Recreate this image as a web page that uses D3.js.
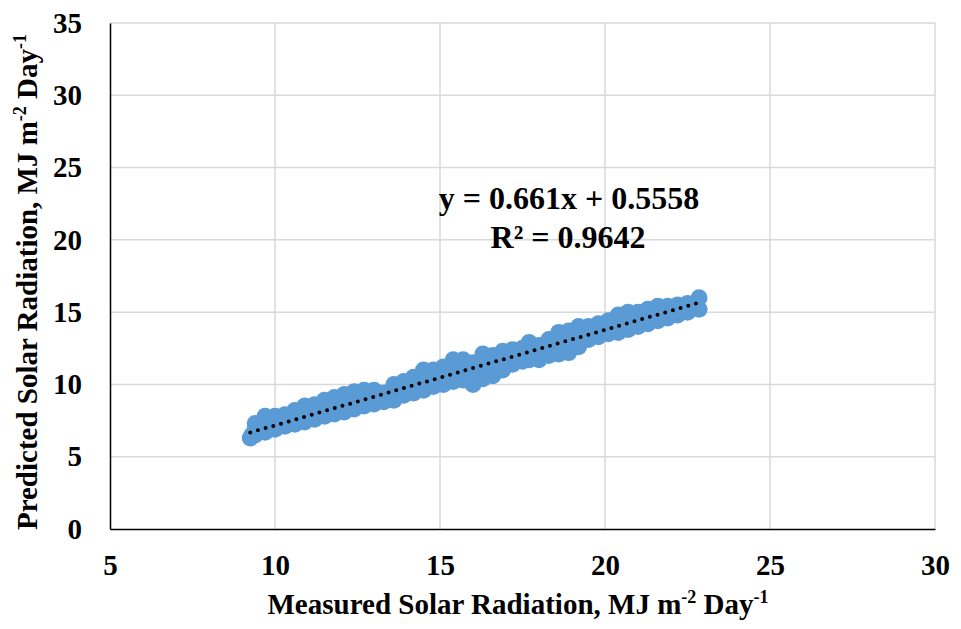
<!DOCTYPE html>
<html>
<head>
<meta charset="utf-8">
<script src="https://cdn.jsdelivr.net/npm/d3@7"></script>
<style>
  body { margin: 0; background: #fff; }
  text { font-family: "Liberation Serif", "Times New Roman", serif; font-weight: bold; fill: #000; }
</style>
</head>
<body>
<div class="chart"></div>
<script>
var svgWidth = 961;
var svgHeight = 629;

var margin = { top: 23, right: 26, bottom: 100, left: 110 };
var width = 935 - margin.left;
var height = 529 - margin.top;

// measured vs predicted
var measured = [
  9.25, 9.3,
  9.4, 9.4, 9.4,
  9.7, 9.7, 9.7,
  10.0, 10.0, 10.0,
  10.3, 10.3, 10.3,
  10.6, 10.6, 10.6,
  10.9, 10.9, 10.9,
  11.2, 11.2, 11.2,
  11.5, 11.5, 11.5,
  11.8, 11.8, 11.8,
  12.1, 12.1, 12.1,
  12.4, 12.4, 12.4,
  12.7, 12.7, 12.7,
  13.0, 13.0, 13.0,
  13.3, 13.3, 13.3,
  13.6, 13.6, 13.6,
  13.9, 13.9, 13.9,
  14.2, 14.2, 14.2,
  14.5, 14.5, 14.5,
  14.8, 14.8, 14.8,
  15.1, 15.1, 15.1,
  15.4, 15.4, 15.4,
  15.7, 15.7, 15.7,
  16.0, 16.0, 16.0,
  16.3, 16.3, 16.3,
  16.6, 16.6, 16.6,
  16.9, 16.9, 16.9,
  17.2, 17.2, 17.2,
  17.5, 17.5, 17.5,
  17.7, 17.7, 17.7,
  18.0, 18.0, 18.0,
  18.3, 18.3, 18.3,
  18.6, 18.6, 18.6,
  18.9, 18.9, 18.9,
  19.2, 19.2, 19.2,
  19.5, 19.5, 19.5,
  19.8, 19.8, 19.8,
  20.1, 20.1, 20.1,
  20.4, 20.4, 20.4,
  20.7, 20.7, 20.7,
  21.0, 21.0, 21.0,
  21.3, 21.3, 21.3,
  21.6, 21.6, 21.6,
  21.9, 21.9, 21.9,
  22.2, 22.2, 22.2,
  22.5, 22.5, 22.5,
  22.85, 22.85
];
var predicted = [
  6.3, 6.5,
  7.3, 6.9, 6.5,
  7.8, 7.2, 6.7,
  7.8, 7.3, 6.9,
  7.9, 7.5, 7.1,
  8.2, 7.7, 7.25,
  8.5, 7.9, 7.4,
  8.6, 8.1, 7.6,
  8.9, 8.3, 7.8,
  9.1, 8.5, 7.95,
  9.3, 8.7, 8.1,
  9.5, 8.9, 8.3,
  9.6, 9.0, 8.5,
  9.6, 9.1, 8.65,
  9.4, 9.1, 8.8,
  10.0, 9.4, 8.9,
  10.2, 9.7, 9.25,
  10.5, 9.9, 9.4,
  11.0, 10.2, 9.6,
  11.0, 10.4, 9.85,
  11.2, 10.6, 10.0,
  11.7, 10.8, 10.2,
  11.7, 11.0, 10.3,
  11.5, 11.1, 10.0,
  12.1, 11.3, 10.4,
  12.0, 11.5, 10.6,
  12.3, 11.7, 11.0,
  12.4, 11.9, 11.4,
  12.5, 12.1, 11.6,
  12.9, 12.3, 11.7,
  12.7, 12.4, 11.7,
  13.1, 12.6, 12.0,
  13.6, 12.9, 12.1,
  13.7, 13.1, 12.2,
  14.0, 13.3, 12.6,
  14.0, 13.5, 13.1,
  14.2, 13.7, 13.3,
  14.4, 13.9, 13.5,
  14.8, 14.1, 13.6,
  15.0, 14.3, 13.8,
  15.0, 14.5, 14.0,
  15.2, 14.7, 14.2,
  15.4, 14.9, 14.4,
  15.4, 15.1, 14.6,
  15.5, 15.2, 14.8,
  15.6, 15.4, 15.0,
  16.0, 15.2
];

var xTicks = [5, 10, 15, 20, 25, 30];
var yTicks = [0, 5, 10, 15, 20, 25, 30, 35];
var slope = 0.661;
var intercept = 0.5558;
var equationLabel = "y = 0.661x + 0.5558";
var r2Label = "R\u00B2 = 0.9642";

var data = measured.map(function(m, i) { return { x: m, y: predicted[i] }; });

var svg = d3.select(".chart")
  .append("svg")
  .attr("width", svgWidth)
  .attr("height", svgHeight);

var chartGroup = svg.append("g")
  .attr("transform", `translate(${margin.left}, ${margin.top})`);

var xLinearScale = d3.scaleLinear().domain([5, 30]).range([0, width]);
var yLinearScale = d3.scaleLinear().domain([0, 35]).range([height, 0]);

// gridlines
chartGroup.append("g")
  .selectAll("line")
  .data(yTicks.slice(1))
  .enter()
  .append("line")
    .attr("x1", 0)
    .attr("x2", width)
    .attr("y1", d => yLinearScale(d))
    .attr("y2", d => yLinearScale(d))
    .attr("stroke", "#d9d9d9")
    .attr("stroke-width", 1.5);

chartGroup.append("g")
  .selectAll("line")
  .data(xTicks.slice(1))
  .enter()
  .append("line")
    .attr("x1", d => xLinearScale(d))
    .attr("x2", d => xLinearScale(d))
    .attr("y1", 0)
    .attr("y2", height)
    .attr("stroke", "#d9d9d9")
    .attr("stroke-width", 1.5);

// axes
var bottomAxis = d3.axisBottom(xLinearScale).tickValues(xTicks).tickSize(0).tickPadding(25);
var leftAxis = d3.axisLeft(yLinearScale).tickValues(yTicks).tickSize(0).tickPadding(28);

var xAxisG = chartGroup.append("g")
  .attr("transform", `translate(0, ${height})`)
  .call(bottomAxis);
var yAxisG = chartGroup.append("g")
  .call(leftAxis);

[xAxisG, yAxisG].forEach(function(g) {
  g.select(".domain").attr("stroke", "#000").attr("stroke-width", 1.5);
  g.selectAll("text")
    .style("font-family", "'Liberation Serif', 'Times New Roman', serif")
    .style("font-weight", "bold")
    .style("font-size", "29px")
    .attr("fill", "#000");
});

// points
chartGroup.selectAll("circle")
  .data(data)
  .enter()
  .append("circle")
    .attr("cx", d => xLinearScale(d.x))
    .attr("cy", d => yLinearScale(d.y))
    .attr("r", 8.5)
    .attr("fill", "#5b9bd5");

// dotted trend line
var xMin = d3.min(measured), xMax = d3.max(measured);
chartGroup.append("line")
  .attr("x1", xLinearScale(xMin))
  .attr("y1", yLinearScale(slope * xMin + intercept))
  .attr("x2", xLinearScale(xMax))
  .attr("y2", yLinearScale(slope * xMax + intercept))
  .attr("stroke", "#000")
  .attr("stroke-width", 4)
  .attr("stroke-linecap", "round")
  .attr("stroke-dasharray", "0,8");

// equation
svg.append("text")
  .attr("x", 569)
  .attr("y", 209)
  .attr("text-anchor", "middle")
  .style("font-size", "32px")
  .text(equationLabel);
svg.append("text")
  .attr("x", 568)
  .attr("y", 248)
  .attr("text-anchor", "middle")
  .style("font-size", "32px")
  .text(r2Label);

// axis titles
var xTitle = svg.append("text")
  .attr("x", 518)
  .attr("y", 614)
  .attr("text-anchor", "middle")
  .style("font-size", "29px");
xTitle.append("tspan").text("Measured Solar Radiation, MJ m");
xTitle.append("tspan").attr("dy", -11).style("font-size", "18px").text("-2");
xTitle.append("tspan").attr("dy", 11).text(" Day");
xTitle.append("tspan").attr("dy", -11).style("font-size", "18px").text("-1");

var yTitle = svg.append("text")
  .attr("transform", "translate(37, 282) rotate(-90)")
  .attr("text-anchor", "middle")
  .style("font-size", "29px");
yTitle.append("tspan").text("Predicted Solar Radiation, MJ m");
yTitle.append("tspan").attr("dy", -11).style("font-size", "18px").text("-2");
yTitle.append("tspan").attr("dy", 11).text(" Day");
yTitle.append("tspan").attr("dy", -11).style("font-size", "18px").text("-1");
</script>
</body>
</html>
